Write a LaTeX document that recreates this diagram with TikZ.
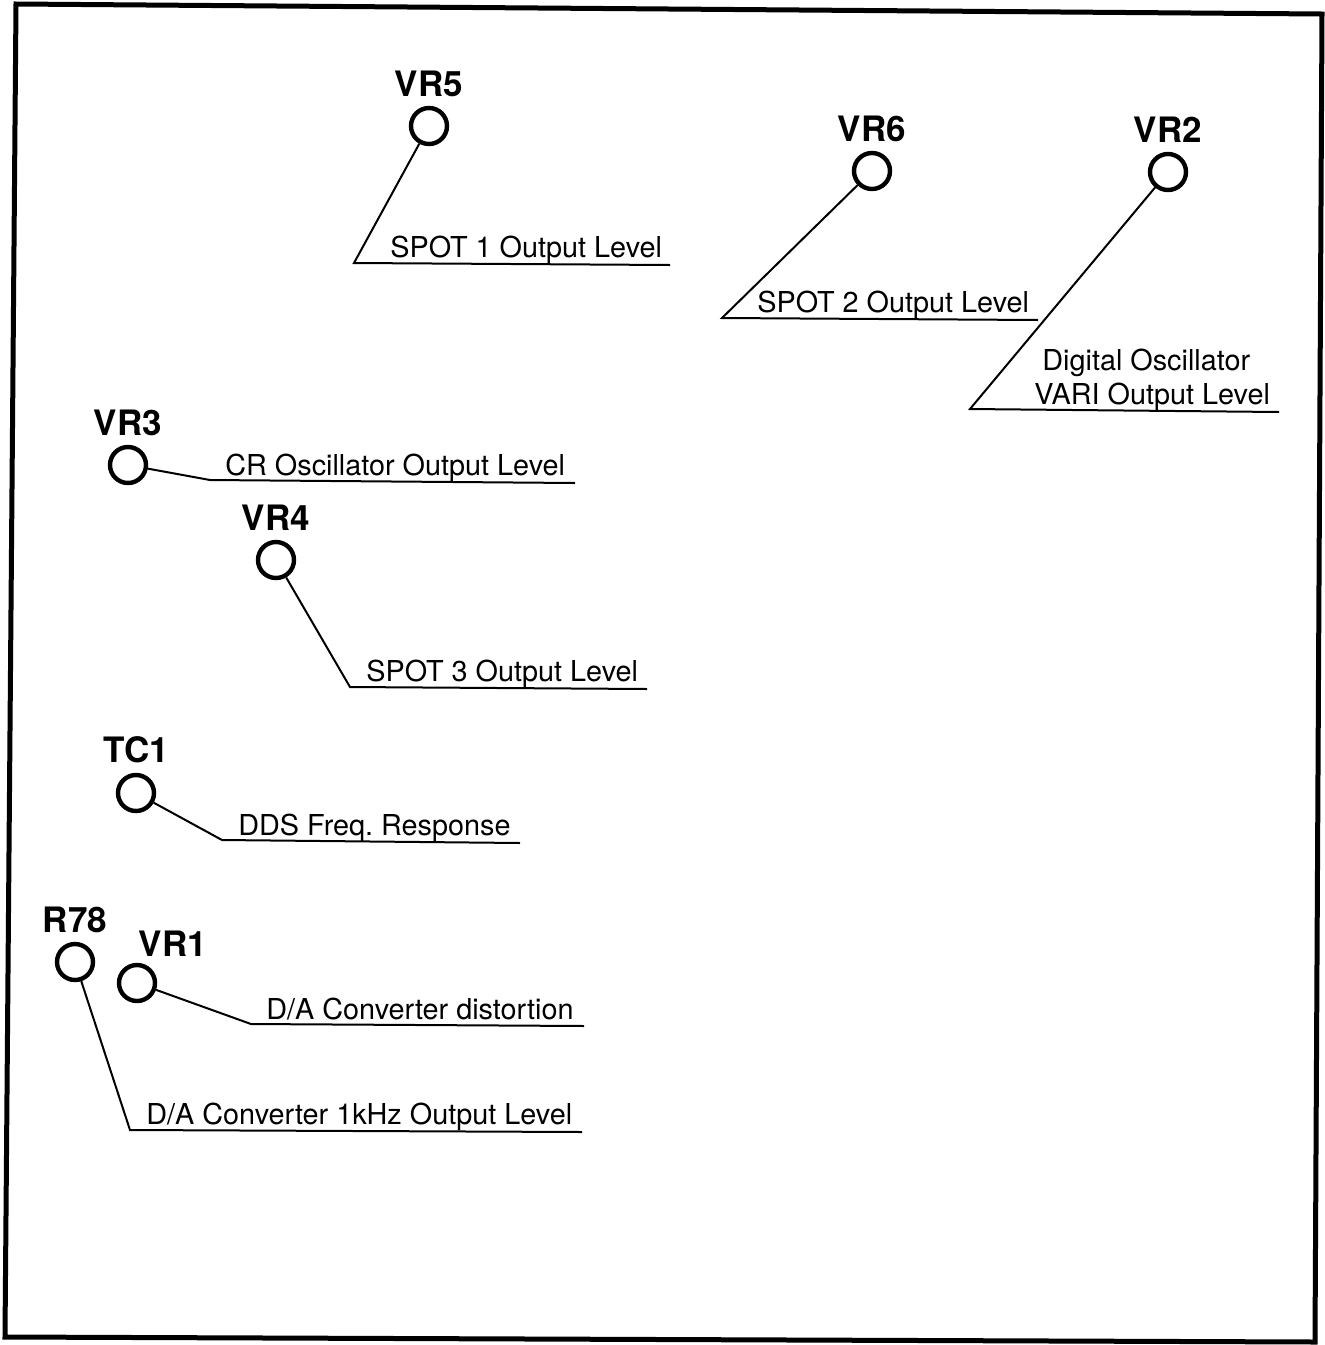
\documentclass[tikz,border=0pt]{standalone}
\usepackage{fontspec}
\setmainfont{TeX Gyre Heros}
\usetikzlibrary{positioning}

\begin{document}
\begin{tikzpicture}[
  x=0.5pt,
  y=-0.5pt,
  node distance=4.5pt,
  pot/.style={
    draw,
    circle,
    line width=2.2pt,
    minimum size=18pt,
    inner sep=0pt
  },
  ref/.style={
    font=\fontsize{17.5}{20}\selectfont\bfseries,
    inner sep=0pt
  },
  note/.style={
    anchor=base west,
    font=\fontsize{14.4}{17}\selectfont,
    inner sep=0pt
  },
  leader/.style={line width=1pt},
  frame/.style={line width=2.5pt, line join=miter}
]
\useasboundingbox (0,0) rectangle (1325,1345);
\draw[frame] (16,4) -- (1322,14) -- (1315,1342) -- (5,1337) -- cycle;

% adjusters
\node[pot] (vr5) at (429,126) {};
\node[pot] (vr6) at (872,171) {};
\node[pot] (vr2) at (1168,172) {};
\node[pot] (vr3) at (128,465) {};
\node[pot] (vr4) at (276,560) {};
\node[pot] (tc1) at (136,793) {};
\node[pot] (r78) at (75,962) {};
\node[pot] (vr1) at (137,983) {};

\node[ref, above=of vr5] (vr5ref) {VR5};
\node[ref, above=of vr6] (vr6ref) {VR6};
\node[ref, above=of vr2] (vr2ref) {VR2};
\node[ref, above=of vr3] (vr3ref) {VR3};
\node[ref, above=of vr4] (vr4ref) {VR4};
\node[ref, above=of tc1] (tc1ref) {TC1};
\node[ref, above=of r78] (r78ref) {R78};
\node[ref, above=3pt of vr1, xshift=18pt] (vr1ref) {VR1};

% leader feet and ends
\coordinate (vr5a) at (354,263);
\coordinate (vr5b) at (670,265);
\coordinate (vr6a) at (722,318);
\coordinate (vr6b) at (1038,320);
\coordinate (vr2a) at (970,409);
\coordinate (vr2b) at (1279,412);
\coordinate (vr3a) at (210,480);
\coordinate (vr3b) at (575,483);
\coordinate (vr4a) at (350,687);
\coordinate (vr4b) at (647,689);
\coordinate (tc1a) at (222,840);
\coordinate (tc1b) at (520,843);
\coordinate (vr1a) at (251,1024);
\coordinate (vr1b) at (584,1026);
\coordinate (r78a) at (130,1130);
\coordinate (r78b) at (582,1132);

\draw[leader] (vr5) -- (vr5a) -- (vr5b);
\draw[leader] (vr6) -- (vr6a) -- (vr6b);
\draw[leader] (vr2) -- (vr2a) -- (vr2b);
\draw[leader] (vr3) -- (vr3a) -- (vr3b);
\draw[leader] (vr4) -- (vr4a) -- (vr4b);
\draw[leader] (tc1) -- (tc1a) -- (tc1b);
\draw[leader] (vr1) -- (vr1a) -- (vr1b);
\draw[leader] (r78) -- (r78a) -- (r78b);

% texts
\node[note] (vr5txt) at (390,257) {SPOT 1 Output Level};
\node[note] (vr6txt) at (757,312) {SPOT 2 Output Level};
\node[note] (vr2txt) at (1042,370) {Digital Oscillator};
\node[note] (vr2txtb) at (1034,404) {VARI Output Level};
\node[note] (vr3txt) at (225,475) {CR Oscillator Output Level};
\node[note] (vr4txt) at (366,681) {SPOT 3 Output Level};
\node[note] (tc1txt) at (238,835) {DDS Freq.\ Response};
\node[note] (vr1txt) at (266,1019) {D/A Converter distortion};
\node[note] (r78txt) at (146,1124) {D/A Converter 1kHz Output Level};
\end{tikzpicture}
\end{document}
